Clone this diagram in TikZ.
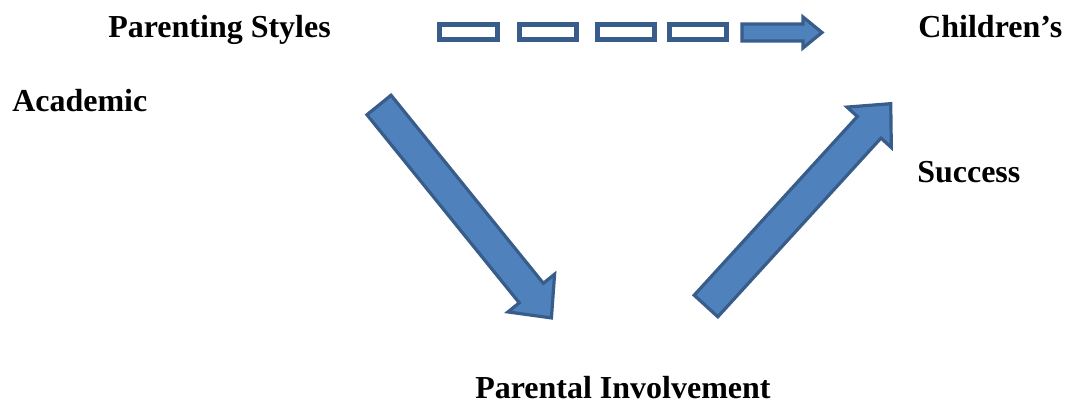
\documentclass[tikz,border=0pt]{standalone}
\usepackage{fontspec}
\setmainfont{Liberation Serif}
\usepackage{xcolor}
\definecolor{arrowfill}{RGB}{79,129,189}
\definecolor{arrowline}{RGB}{56,93,138}
\tikzset{
  label/.style={anchor=base west,inner sep=0pt,font=\bfseries\fontsize{24}{28}\selectfont},
  dashbox/.style={draw=arrowline,fill=white,line width=3.4pt},
  blockarrow/.style={draw=arrowline,fill=arrowfill,line width=2.4pt,line join=miter}
}
% block arrow: tail at origin pointing along +x
\newcommand{\bigarrow}[6]{%
  \begin{scope}[shift={(#1)},rotate=#2]
    \draw[blockarrow] (0,-#4)--({#3-#6},-#4)--({#3-#6},-#5)--(#3,0)--({#3-#6},#5)--({#3-#6},#4)--(0,#4)--cycle;
  \end{scope}%
}
\begin{document}
\begin{tikzpicture}[x=0.75pt,y=-0.75pt]
\useasboundingbox (0,0) rectangle (1065,406);
\node[label] (styles) at (108,38) {Parenting Styles};
\node[label] (childrens) at (918,38) {Children’s};
\node[label] (academic) at (12,112) {Academic};
\node[label] (success) at (917,183) {Success};
\node[label] (involvement) at (475,398) {Parental Involvement};
% dashed arrow
\foreach \a/\b in {438/499,518/578,596/656,668/728}{
  \draw[dashbox] ({\a+1.7},24.7) rectangle ({\b-1.7},39.3);
}
\draw[blockarrow] (742,24)--(803,24)--(803,17)--(822,32.5)--(803,48)--(803,41)--(742,41)--cycle;
% diagonal arrows
\bigarrow{379,105}{-51}{274}{15.5}{30}{32}
\bigarrow{706,306}{47.6}{274}{16}{30}{32}
\end{tikzpicture}
\end{document}
